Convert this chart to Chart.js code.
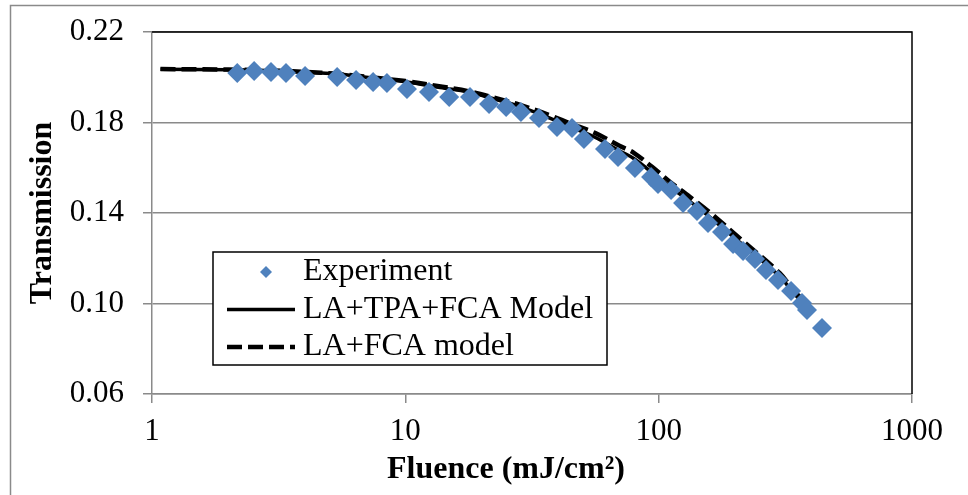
<!DOCTYPE html>
<html>
<head>
<meta charset="utf-8">
<script src="https://cdn.jsdelivr.net/npm/chart.js@4.4.1/dist/chart.umd.min.js"></script>
<style>
html, body { margin: 0; padding: 0; background: #fff; }
</style>
</head>
<body>
<canvas id="fluenceChart" width="968" height="495"></canvas>
<script>
// Experiment points
const expFluence = [2.17, 2.53, 2.95, 3.38, 4.02, 5.38, 6.39, 7.46, 8.46, 10.15, 12.4, 14.9, 18.0, 21.4, 25.0, 28.6, 33.7, 39.7, 45.5, 50.7, 61.4, 69.1, 80.6, 93.3, 99.4, 111.9, 124.8, 141.7, 156.6, 177.8, 196.6, 215.3, 240.1, 265.3, 295.9, 333.1, 368.0, 385.0, 441.3];
const expTrans = [0.2019, 0.2028, 0.2023, 0.2019, 0.2006, 0.2001, 0.1988, 0.1979, 0.1975, 0.1948, 0.1935, 0.1913, 0.1913, 0.1882, 0.1869, 0.1846, 0.1820, 0.1780, 0.1776, 0.1727, 0.1683, 0.1648, 0.1599, 0.1559, 0.1528, 0.1502, 0.1444, 0.1409, 0.1356, 0.1316, 0.1263, 0.1232, 0.1197, 0.1148, 0.1104, 0.1055, 0.1002, 0.0971, 0.0892];

// LA+TPA+FCA model (solid)
const tpaFluence = [1.08, 2, 3, 4, 5.4, 7, 10, 14, 18, 23, 28, 37, 45, 56, 70, 80, 100, 111, 133, 160, 220, 300, 345, 380];
const tpaTrans = [0.2035, 0.2033, 0.2029, 0.2023, 0.2014, 0.2000, 0.1980, 0.1953, 0.1933, 0.1900, 0.1872, 0.1820, 0.1780, 0.1735, 0.1675, 0.1640, 0.1555, 0.1515, 0.1450, 0.1380, 0.1250, 0.1120, 0.1040, 0.0995];

// LA+FCA model (dashed)
const fcaFluence = [1.08, 2, 3, 4, 5.4, 7, 10, 14, 18, 23, 28, 37, 45, 56, 70, 80, 100, 111, 133, 160, 220, 300, 345, 375];
const fcaTrans = [0.2036, 0.2034, 0.2030, 0.2024, 0.2015, 0.2002, 0.1983, 0.1958, 0.1937, 0.1906, 0.1880, 0.1833, 0.1795, 0.1754, 0.1697, 0.1665, 0.1580, 0.1537, 0.1471, 0.1400, 0.1267, 0.1135, 0.1051, 0.1012];

const xTicks = [1, 10, 100, 1000];
const xTickLabels = ['1', '10', '100', '1000'];
const yTicks = [0.06, 0.10, 0.14, 0.18, 0.22];

const seriesNames = ['Experiment', 'LA+TPA+FCA Model', 'LA+FCA model'];
const xTitle = 'Fluence (mJ/cm\u00B2)';
const yTitle = 'Transmission';

const serif = "'Liberation Serif', 'Times New Roman', serif";
const gridGray = '#8a8a8a';

function toPoints(xs, ys) {
    return xs.map((x, i) => ({ x: x, y: ys[i] }));
}

// outer frame, black top/right edges, x title
const framePlugin = {
    id: 'framePlugin',
    beforeDraw(chart) {
        const ctx = chart.ctx;
        ctx.save();
        ctx.fillStyle = '#fff';
        ctx.fillRect(0, 0, chart.width, chart.height);
        ctx.strokeStyle = gridGray;
        ctx.lineWidth = 1.5;
        ctx.beginPath();
        ctx.moveTo(10.5, chart.height);
        ctx.lineTo(10.5, 5.5);
        ctx.lineTo(chart.width, 5.5);
        ctx.stroke();
        ctx.restore();
    },
    beforeDatasetsDraw(chart) {
        const { ctx, chartArea } = chart;
        ctx.save();
        ctx.strokeStyle = '#000';
        ctx.lineWidth = 1.5;
        ctx.beginPath();
        ctx.moveTo(chartArea.left, chartArea.top);
        ctx.lineTo(chartArea.right, chartArea.top);
        ctx.lineTo(chartArea.right, chartArea.bottom);
        ctx.stroke();
        ctx.restore();
    },
    afterDraw(chart) {
        const ctx = chart.ctx;
        ctx.save();
        ctx.fillStyle = '#000';
        ctx.font = 'bold 32px ' + serif;
        ctx.textAlign = 'center';
        ctx.textBaseline = 'middle';
        ctx.fillText(xTitle, 506, 470);
        ctx.restore();
    }
};

// boxed legend inside the plot area
const boxLegend = {
    id: 'boxLegend',
    afterDatasetsDraw(chart) {
        const ctx = chart.ctx;
        const box = { x: 213, y: 252, w: 394, h: 113 };
        ctx.save();
        ctx.fillStyle = '#fff';
        ctx.fillRect(box.x, box.y, box.w, box.h);
        ctx.strokeStyle = '#000';
        ctx.lineWidth = 1.5;
        ctx.strokeRect(box.x, box.y, box.w, box.h);

        const rows = [272, 309.5, 347];
        chart.data.datasets.forEach((ds, i) => {
            const y = rows[i];
            if (ds.showLine) {
                ctx.strokeStyle = ds.borderColor;
                ctx.lineWidth = ds.borderWidth;
                ctx.setLineDash(ds.borderDash || []);
                ctx.beginPath();
                ctx.moveTo(227, y);
                ctx.lineTo(295, y);
                ctx.stroke();
                ctx.setLineDash([]);
            } else {
                ctx.fillStyle = ds.backgroundColor;
                ctx.beginPath();
                ctx.moveTo(266, y - 6);
                ctx.lineTo(272, y);
                ctx.lineTo(266, y + 6);
                ctx.lineTo(260, y);
                ctx.closePath();
                ctx.fill();
            }
            ctx.fillStyle = '#000';
            ctx.font = '32px ' + serif;
            ctx.textAlign = 'left';
            ctx.textBaseline = 'middle';
            ctx.fillText(ds.label, 303, y);
        });
        ctx.restore();
    }
};

const ctx = document.getElementById('fluenceChart').getContext('2d');
new Chart(ctx, {
    type: 'scatter',
    data: {
        datasets: [
            {
                label: seriesNames[0],
                data: toPoints(expFluence, expTrans),
                showLine: false,
                pointStyle: 'rectRot',
                pointRadius: 10,
                backgroundColor: '#4F81BD',
                borderColor: '#4F81BD',
                borderWidth: 0
            },
            {
                label: seriesNames[1],
                data: toPoints(tpaFluence, tpaTrans),
                showLine: true,
                pointRadius: 0,
                borderColor: '#000',
                borderWidth: 3.5,
                tension: 0.35
            },
            {
                label: seriesNames[2],
                data: toPoints(fcaFluence, fcaTrans),
                showLine: true,
                pointRadius: 0,
                borderColor: '#000',
                borderWidth: 4.5,
                borderDash: [15, 6],
                tension: 0.35
            }
        ]
    },
    options: {
        responsive: false,
        animation: false,
        events: [],
        layout: { padding: { left: 0, top: 32, right: 56, bottom: 0 } },
        plugins: {
            legend: { display: false },
            tooltip: { enabled: false }
        },
        scales: {
            x: {
                type: 'logarithmic',
                min: 1,
                max: 1000,
                afterBuildTicks: scale => { scale.ticks = xTicks.map(v => ({ value: v })); },
                afterFit: scale => {
                    scale.height = 101;
                    scale.paddingLeft = 0;
                    scale.paddingRight = 0;
                },
                grid: { drawOnChartArea: false, drawTicks: true, tickLength: 9, color: gridGray, lineWidth: 1.5 },
                border: { color: gridGray, width: 1.5 },
                ticks: {
                    padding: 10,
                    color: '#000',
                    font: { family: serif, size: 31 },
                    maxRotation: 0,
                    autoSkip: false,
                    callback: (value, index) => xTickLabels[index]
                }
            },
            y: {
                min: 0.06,
                max: 0.22,
                afterBuildTicks: scale => { scale.ticks = yTicks.map(v => ({ value: v })); },
                afterFit: scale => {
                    scale.width = 152;
                    scale.paddingTop = 0;
                    scale.paddingBottom = 0;
                },
                grid: { color: gridGray, lineWidth: 1.5, tickLength: 9 },
                border: { color: gridGray, width: 1.5 },
                ticks: {
                    padding: 19,
                    color: '#000',
                    font: { family: serif, size: 31 },
                    callback: value => value.toFixed(2)
                },
                title: {
                    display: true,
                    text: yTitle,
                    color: '#000',
                    font: { family: serif, size: 32, weight: 'bold' },
                    padding: { top: 24, bottom: 0 }
                }
            }
        }
    },
    plugins: [framePlugin, boxLegend]
});
</script>
</body>
</html>
